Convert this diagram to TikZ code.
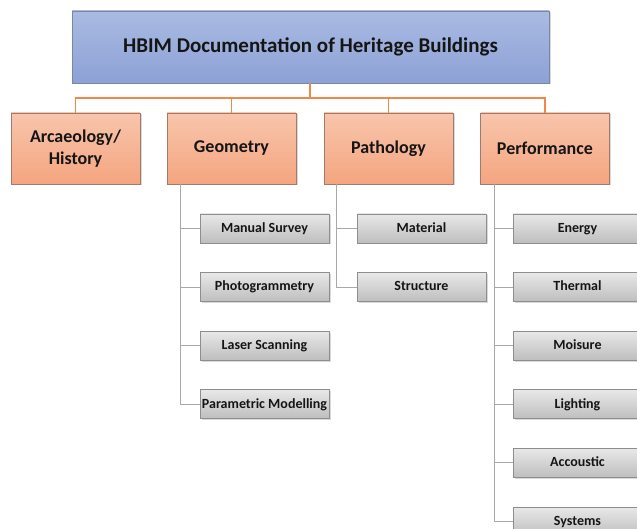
\documentclass[tikz,border=0pt]{standalone}
\usepackage{fontspec}
\setmainfont{Carlito}
\usetikzlibrary{shadows}

\definecolor{titletop}{HTML}{AABAE2}
\definecolor{titlebot}{HTML}{8CA1D6}
\definecolor{titleedge}{HTML}{7A879F}
\definecolor{cattop}{HTML}{F8C5AC}
\definecolor{catbot}{HTML}{F4A57F}
\definecolor{catedge}{HTML}{A07A6A}
\definecolor{subtop}{HTML}{E8E8E8}
\definecolor{subbot}{HTML}{BEBEBE}
\definecolor{subedge}{HTML}{8E8E8E}
\definecolor{treeorange}{HTML}{F0884A}
\definecolor{treegray}{HTML}{A8A8A8}
\definecolor{ink}{HTML}{151515}

\tikzset{
  x=1pt, y=-1pt,
  boxshadow/.style={drop shadow={shadow xshift=1.5pt, shadow yshift=-1.5pt, opacity=0.25, fill=black!60}},
  titlebox/.style={draw=titleedge, line width=0.8pt, top color=titletop, bottom color=titlebot,
    minimum width=477pt, minimum height=72pt, inner sep=0pt, boxshadow,
    font=\fontsize{21}{24}\selectfont\bfseries, text=ink},
  catbox/.style={draw=catedge, line width=0.8pt, top color=cattop, bottom color=catbot,
    minimum width=129pt, minimum height=71pt, inner sep=0pt, align=center, boxshadow,
    font=\fontsize{18}{22}\selectfont\bfseries, text=ink},
  subbox/.style={draw=subedge, line width=0.8pt, top color=subtop, bottom color=subbot,
    minimum width=129pt, minimum height=29pt, inner sep=0pt, boxshadow,
    text height=10.5pt, text depth=3pt,
    font=\fontsize{14}{16}\selectfont\bfseries, text=ink},
  orangeline/.style={draw=treeorange, line width=1.4pt},
  grayline/.style={draw=treegray, line width=1.1pt}
}

\begin{document}
\begin{tikzpicture}
\useasboundingbox (0,0) rectangle (637,529);

% top level
\node[titlebox] (title) at (310.5,47) {HBIM Documentation of Heritage Buildings};

% categories
\node[catbox] (arch) at (75.5,148.5)  {Arcaeology/\\History};
\node[catbox] (geo)  at (231.5,148.5) {Geometry};
\node[catbox] (path) at (388.5,148.5) {Pathology};
\node[catbox] (perf) at (545,148.5)   {Performance};

% geometry methods
\node[subbox] (ms) at (264.5,228.5) {Manual Survey};
\node[subbox] (ph) at (264.5,287.1) {Photogrammetry};
\node[subbox] (ls) at (264.5,345.7) {Laser Scanning};
\node[subbox] (pm) at (264.5,404.3) {Parametric Modelling};

% pathology aspects
\node[subbox] (mat) at (421.5,228.5) {Material};
\node[subbox] (str) at (421.5,287.1) {Structure};

% performance aspects
\node[subbox] (en) at (577.5,228.5) {Energy};
\node[subbox] (th) at (577.5,287.1) {Thermal};
\node[subbox] (mo) at (577.5,345.7) {Moisure};
\node[subbox] (li) at (577.5,404.3) {Lighting};
\node[subbox] (ac) at (577.5,462.9) {Accoustic};
\node[subbox] (sy) at (577.5,521.5) {Systems};

% orange bus from the title to the categories
\coordinate (bus) at (310,98);
\draw[orangeline] (title.south -| bus) -- (bus);
\draw[orangeline] (arch.north) |- (bus) -| (perf.north);
\draw[orangeline] (geo.north) -- (geo.north |- bus);
\draw[orangeline] (path.north) -- (path.north |- bus);

% gray trunks to the sub items
\coordinate (gt) at ([xshift=14pt]geo.south west);
\coordinate (pt) at ([xshift=13pt]path.south west);
\coordinate (ft) at ([xshift=14pt]perf.south west);

\foreach \c in {ms,ph,ls,pm} \draw[grayline] (gt) |- (\c.west);
\foreach \c in {mat,str} \draw[grayline] (pt) |- (\c.west);
\foreach \c in {en,th,mo,li,ac,sy} \draw[grayline] (ft) |- (\c.west);

\end{tikzpicture}
\end{document}
